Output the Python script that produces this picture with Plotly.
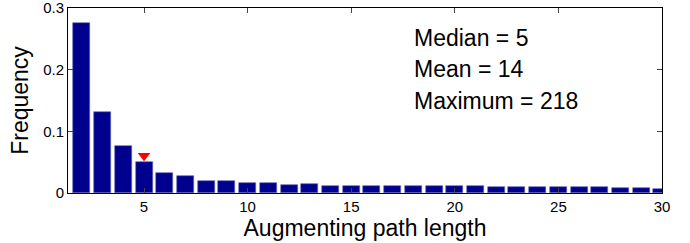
import plotly.graph_objects as go

path_length = list(range(2, 31))
frequency = [0.276, 0.132, 0.076, 0.051, 0.032, 0.027, 0.020, 0.019, 0.016, 0.016,
             0.0135, 0.014, 0.012, 0.012, 0.012, 0.0118, 0.0117, 0.0115, 0.011, 0.0108,
             0.0105, 0.0098, 0.0097, 0.0096, 0.0095, 0.009, 0.0088, 0.0075, 0.0072]
median_x = [5]
median_y = [0.0605]
stats_text = ["Median = 5", "Mean = 14", "Maximum = 218"]
x_ticks = [5, 10, 15, 20, 25, 30]
y_ticks = [0, 0.1, 0.2, 0.3]

font = "Liberation Sans, Arial, Helvetica, sans-serif"

fig = go.Figure()
fig.add_trace(go.Bar(x=path_length, y=frequency, width=0.82,
                     marker=dict(color="#00008F", line=dict(color="#6666B0", width=0.6)),
                     showlegend=False))
fig.add_trace(go.Scatter(x=median_x, y=median_y, mode="markers",
                         marker=dict(symbol="triangle-down", size=11, color="#FF0000"),
                         showlegend=False))

for i, t in enumerate(stats_text):
    fig.add_annotation(x=0.579, y=0.84 - i * 0.171, xref="paper", yref="paper",
                       text=t, showarrow=False, xanchor="left", yanchor="middle",
                       font=dict(size=23, color="black", family=font))

fig.update_layout(
    width=690, height=243,
    margin=dict(l=68, r=28, t=8, b=50),
    plot_bgcolor="white", paper_bgcolor="white",
    font=dict(family=font, color="black", size=15),
    bargap=0,
)
fig.update_xaxes(range=[1.33, 30.001], tickvals=x_ticks, ticks="inside", ticklen=5,
                 showline=True, linecolor="black", linewidth=1, mirror="ticks",
                 showgrid=False, zeroline=False, tickfont=dict(size=15), automargin=False,
                 ticklabeloverflow="allow",
                 title=dict(text="Augmenting path length", font=dict(size=23), standoff=2))
fig.update_yaxes(range=[0, 0.3001], tickvals=y_ticks, ticktext=["0", "0.1", "0.2", "0.3"],
                 ticks="inside", ticklen=5,
                 showline=True, linecolor="black", linewidth=1, mirror="ticks",
                 showgrid=False, zeroline=False, tickfont=dict(size=15), automargin=False,
                 ticklabeloverflow="allow",
                 title=dict(text="Frequency", font=dict(size=23), standoff=8))

fig.write_html("out.html", config={"displayModeBar": False},
               post_script="document.body.style.margin='0';document.body.style.overflow='hidden';")
